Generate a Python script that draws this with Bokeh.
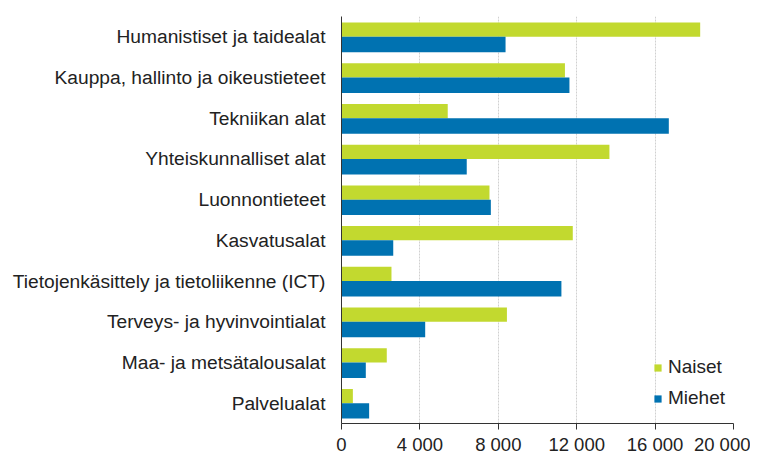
from bokeh.plotting import figure
from bokeh.models import FactorRange, Range1d, Legend, LegendItem, FixedTicker, ColumnDataSource, CustomJSTickFormatter
from bokeh.transform import dodge
from bokeh.embed import file_html
from bokeh.resources import INLINE

categories = [
    "Humanistiset ja taidealat",
    "Kauppa, hallinto ja oikeustieteet",
    "Tekniikan alat",
    "Yhteiskunnalliset alat",
    "Luonnontieteet",
    "Kasvatusalat",
    "Tietojenkäsittely ja tietoliikenne (ICT)",
    "Terveys- ja hyvinvointialat",
    "Maa- ja metsätalousalat",
    "Palvelualat",
]
naiset = [18300, 11400, 5420, 13670, 7550, 11800, 2550, 8440, 2310, 580]
miehet = [8370, 11630, 16700, 6390, 7620, 2640, 11220, 4270, 1240, 1410]
x_ticks = [0, 4000, 8000, 12000, 16000, 20000]

FONT = "Liberation Sans"
GREEN = "#c2d92f"
BLUE = "#0072b1"

src = ColumnDataSource(dict(cat=categories, naiset=naiset, miehet=miehet))

p = figure(output_backend="svg", toolbar_location=None,
           y_range=FactorRange(factors=list(reversed(categories))),
           x_range=Range1d(0, 20000),
           frame_width=392, frame_height=407)
p.min_border_left = 341
p.min_border_right = 17
p.min_border_top = 16
p.min_border_bottom = 28
p.outline_line_color = None

r1 = p.hbar(y=dodge("cat", 0.175, range=p.y_range), right="naiset", height=0.35,
            source=src, fill_color=GREEN, line_color=None)
r2 = p.hbar(y=dodge("cat", -0.19, range=p.y_range), right="miehet", height=0.38,
            source=src, fill_color=BLUE, line_color=None)

p.xaxis.ticker = FixedTicker(ticks=x_ticks)
p.xaxis.formatter = CustomJSTickFormatter(code="return tick >= 1000 ? (Math.floor(tick/1000) + ' 000') : String(tick);")
p.xaxis.major_label_text_font = FONT
p.xaxis.major_label_text_font_size = "18.5px"
p.xaxis.major_label_text_color = "#222222"
p.xaxis.axis_line_color = "#333333"
p.xaxis.major_tick_line_color = "#333333"
p.xaxis.major_tick_out = 6
p.xaxis.major_tick_in = 0
p.xaxis.minor_tick_line_color = None
p.xaxis.major_label_standoff = 4

p.yaxis.major_label_text_font = FONT
p.yaxis.major_label_text_font_size = "19.2px"
p.yaxis.major_label_text_color = "#222222"
p.yaxis.axis_line_color = "#333333"
p.yaxis.major_tick_line_color = None
p.yaxis.major_tick_out = 0
p.yaxis.major_tick_in = 0
p.yaxis.minor_tick_line_color = None
p.yaxis.major_label_standoff = 16

p.xgrid.grid_line_color = "#d0d0d0"
p.xgrid.grid_line_dash = "2 1"
p.ygrid.grid_line_color = None

legend = Legend(items=[LegendItem(label="Naiset", renderers=[r1]),
                       LegendItem(label="Miehet", renderers=[r2])],
                location=(312, 14))
legend.border_line_color = None
legend.background_fill_alpha = 0
legend.padding = 0
legend.margin = 0
legend.spacing = 9
legend.glyph_width = 9
legend.glyph_height = 9
legend.label_height = 20
legend.label_standoff = 6
legend.label_text_font = FONT
legend.label_text_font_size = "19px"
legend.label_text_color = "#222222"
p.add_layout(legend)

open("out.html", "w").write(file_html(p, INLINE))
